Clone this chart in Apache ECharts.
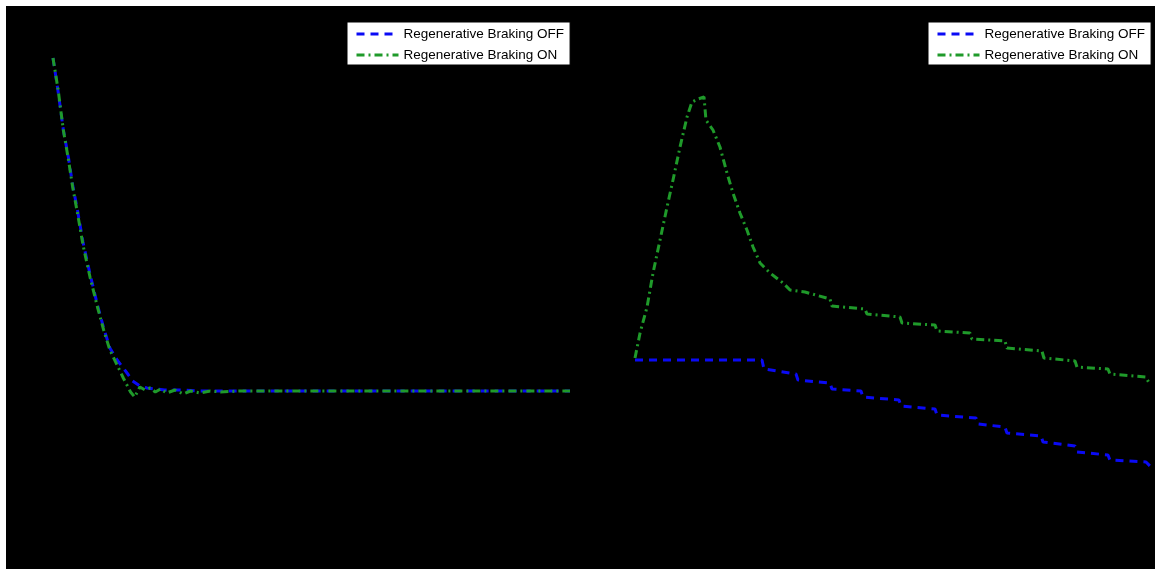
<!DOCTYPE html>
<html>
<head>
<meta charset="utf-8">
<script src="https://cdn.jsdelivr.net/npm/echarts@6/dist/echarts.min.js"></script>
<style>
  html, body { margin: 0; padding: 0; background: #ffffff; }
  #chart { position: absolute; left: 6px; top: 6px; width: 1149px; height: 563px; }
</style>
</head>
<body>
<div id="chart"></div>
<script>
// Series names shown in both legends
const seriesNames = ['Regenerative Braking OFF', 'Regenerative Braking ON'];

// Left panel: settling response, time (s) and value
const leftOffTime = [0, 0.5, 1.0, 1.5, 1.9, 2.4, 2.9, 3.6, 4.3, 4.9, 5.5, 6.2, 6.8, 7.3, 7.7, 8.4, 9.1, 9.9, 10.8, 12.3, 14.2, 50];
const leftOffValue = [9.76, 9.08, 8.32, 7.76, 7.22, 6.68, 6.08, 5.42, 4.82, 4.36, 3.96, 3.72, 3.56, 3.42, 3.30, 3.20, 3.16, 3.14, 3.12, 3.12, 3.10, 3.10];

const leftOnTime = [0, 0.5, 1.0, 1.5, 1.9, 2.4, 2.9, 3.6, 4.3, 4.9, 5.5, 6.2, 6.8, 7.5, 7.9, 8.4, 8.9, 9.4, 9.9, 10.4, 11.0, 11.8, 12.6, 13.3, 14.2, 15.2, 16.2, 18.1, 50];
const leftOnValue = [9.76, 9.12, 8.32, 7.72, 7.18, 6.62, 6.02, 5.36, 4.78, 4.32, 3.92, 3.62, 3.36, 3.08, 2.98, 3.18, 3.12, 3.16, 3.08, 3.14, 3.06, 3.12, 3.04, 3.10, 3.06, 3.10, 3.08, 3.10, 3.10];

// Right panel: time (s) and value
const rightOffTime = [0, 12.33, 12.52, 15.63, 15.82, 18.93, 19.12, 21.94, 22.13, 25.63, 25.82, 29.13, 29.32, 33.11, 33.30, 35.92, 36.11, 39.42, 39.61, 42.72, 42.91, 45.92, 46.11, 49.61, 50];
const rightOffValue = [3.72, 3.72, 3.54, 3.44, 3.32, 3.26, 3.14, 3.10, 2.98, 2.92, 2.80, 2.74, 2.62, 2.56, 2.44, 2.38, 2.26, 2.20, 2.08, 2.00, 1.88, 1.82, 1.72, 1.68, 1.60];

const rightOnTime = [0, 0.49, 1.17, 1.75, 2.43, 3.11, 3.69, 4.37, 5.05, 5.53, 6.12, 6.70, 6.89, 7.57, 8.25, 8.93, 9.51, 10.19, 10.87, 11.46, 12.14, 13.11, 14.37, 15.05, 16.50, 18.93, 19.12, 22.33, 22.52, 25.73, 25.92, 29.13, 29.32, 32.52, 32.71, 35.92, 36.11, 39.51, 39.70, 42.72, 42.91, 45.92, 46.11, 49.61, 50];
const rightOnValue = [3.76, 4.26, 4.78, 5.46, 6.12, 6.78, 7.32, 7.98, 8.58, 8.88, 8.94, 8.98, 8.52, 8.32, 7.98, 7.46, 7.06, 6.66, 6.32, 5.98, 5.66, 5.46, 5.26, 5.12, 5.08, 4.94, 4.80, 4.74, 4.64, 4.58, 4.46, 4.42, 4.30, 4.26, 4.14, 4.10, 3.96, 3.90, 3.76, 3.70, 3.58, 3.54, 3.44, 3.38, 3.22];

function pairs(xs, ys) { return xs.map((x, i) => [x, ys[i]]); }

const OFF_COLOR = '#0a0af5';
const ON_COLOR = '#1f9a2a';
const offStyle = { color: OFF_COLOR, width: 3, type: [8, 6], cap: 'butt' };
const onStyle = { color: ON_COLOR, width: 3, type: [8, 4, 2, 4], cap: 'butt' };

function lineSeries(name, idx, data, style) {
  return {
    name: name, type: 'line', xAxisIndex: idx, yAxisIndex: idx,
    data: data, symbol: 'none', showSymbol: false, animation: false,
    lineStyle: style, itemStyle: { color: style.color }
  };
}

const hiddenAxis = { show: false };
function legendAt(left) {
  return {
    orient: 'vertical', left: left, top: 16,
    data: seriesNames,
    backgroundColor: '#ffffff', borderColor: '#000000', borderWidth: 1, borderRadius: 0,
    padding: [5, 6, 3, 8], itemGap: 7, itemWidth: 42, itemHeight: 14, itemTextGap: 4,
    selectedMode: false,
    itemStyle: { opacity: 0 },
    lineStyle: { width: 3 },
    textStyle: { color: '#000000', fontSize: 13.5, fontFamily: 'Liberation Sans, Arial, sans-serif' }
  };
}

const chart = echarts.init(document.getElementById('chart'));
chart.setOption({
  backgroundColor: '#000000',
  animation: false,
  grid: [
    { left: 47, top: 40, width: 517, height: 500 },
    { left: 629, top: 40, width: 515, height: 500 }
  ],
  xAxis: [
    Object.assign({ type: 'value', gridIndex: 0, min: 0, max: 50 }, hiddenAxis),
    Object.assign({ type: 'value', gridIndex: 1, min: 0, max: 50 }, hiddenAxis)
  ],
  yAxis: [
    Object.assign({ type: 'value', gridIndex: 0, min: 0, max: 10 }, hiddenAxis),
    Object.assign({ type: 'value', gridIndex: 1, min: 0, max: 10 }, hiddenAxis)
  ],
  legend: [legendAt(341), legendAt(922)],
  series: [
    lineSeries(seriesNames[0], 0, pairs(leftOffTime, leftOffValue), offStyle),
    lineSeries(seriesNames[1], 0, pairs(leftOnTime, leftOnValue), onStyle),
    lineSeries(seriesNames[0], 1, pairs(rightOffTime, rightOffValue), offStyle),
    lineSeries(seriesNames[1], 1, pairs(rightOnTime, rightOnValue), onStyle)
  ]
});
</script>
</body>
</html>
